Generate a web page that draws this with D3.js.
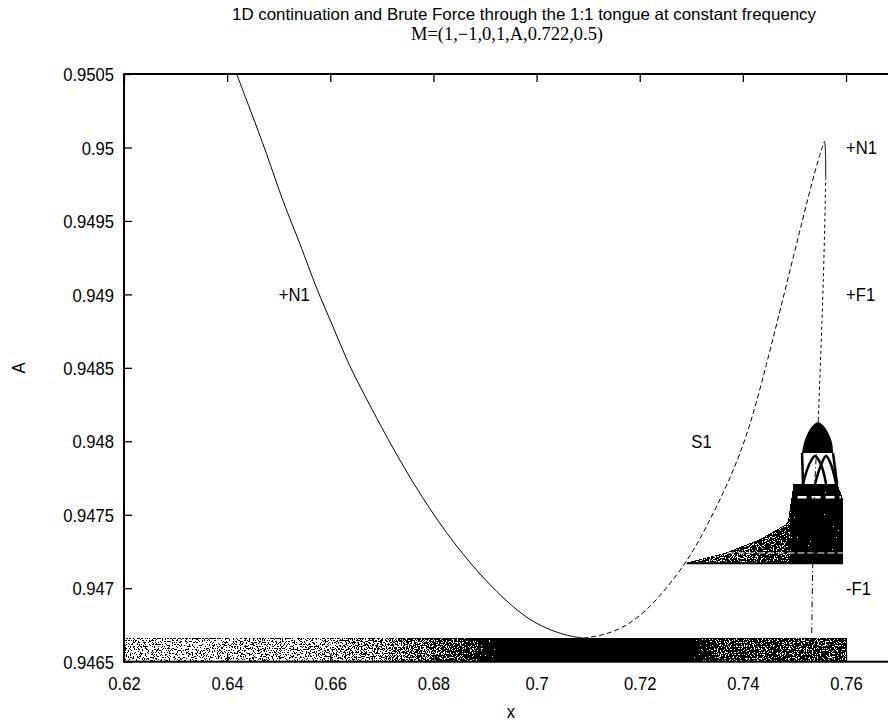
<!DOCTYPE html>
<html>
<head>
<meta charset="utf-8">
<script src="https://d3js.org/d3.v7.min.js"></script>
<style>
  body { margin: 0; background: #fff; }
  svg { display: block; }
  text { font-family: "Liberation Sans", Arial, Helvetica, sans-serif; fill: #000; }
</style>
</head>
<body>
<div id="chart"></div>
<script>
// --- Axis ticks ---
const xTicks = [0.62, 0.64, 0.66, 0.68, 0.7, 0.72, 0.74, 0.76];
const yTicks = [0.9465, 0.947, 0.9475, 0.948, 0.9485, 0.949, 0.9495, 0.95, 0.9505];

// --- Continuation branches, [x, A] ---
const stableN1 = [
  [0.64185, 0.95050], [0.64443, 0.95026], [0.64767, 0.94996], [0.65089, 0.94962],
  [0.65413, 0.94935], [0.65737, 0.94903], [0.66059, 0.94878], [0.66318, 0.94855],
  [0.66640, 0.94833], [0.67288, 0.94790], [0.67934, 0.94753], [0.68579, 0.94722],
  [0.69227, 0.94697], [0.69873, 0.94677], [0.70519, 0.94668], [0.70906, 0.94666]
];
const saddleS1 = [
  [0.70906, 0.94666], [0.71488, 0.94669], [0.72136, 0.94683], [0.72911, 0.94717],
  [0.73299, 0.94742], [0.73751, 0.94774], [0.74125, 0.94808], [0.74463, 0.94853],
  [0.74721, 0.94889], [0.75108, 0.94944], [0.75432, 0.94989], [0.75568, 0.95003]
];
const peakN1 = [[0.75568, 0.95003], [0.75583, 0.95004], [0.75600, 0.94998], [0.75607, 0.94980]];
const flipPlus = [[0.75607, 0.94980], [0.75560, 0.94910], [0.75463, 0.94815]];
const flipMinus = [[0.75463, 0.94815], [0.75399, 0.94774], [0.75355, 0.94717], [0.75335, 0.94668]];

// --- Brute force regions ---
const bandX = [0.62, 0.76];
const bandA = [0.9465, 0.94666];
// [x, share of the band covered by points]
const bandDensity = [
  [0.620, 0.2], [0.640, 0.22], [0.660, 0.3], [0.670, 0.42], [0.680, 0.6],
  [0.688, 0.85], [0.694, 1.0], [0.727, 1.0], [0.735, 0.86], [0.745, 0.76], [0.760, 0.8]
];
const bodyOutline = [
  [0.72911, 0.94717], [0.73687, 0.94724], [0.74333, 0.94733], [0.74785, 0.94742],
  [0.74882, 0.94745], [0.74992, 0.94771], [0.75820, 0.94771], [0.75936, 0.94760],
  [0.75936, 0.94717]
];
const bodyDensity = [[0.72911, 0.6], [0.740, 0.72], [0.7488, 0.85], [0.7500, 0.97], [0.75936, 0.97]];
// light streaks inside the body
const bodyGaps = [
  { pts: [[0.7370, 0.94724], [0.7594, 0.94724]], w: 1, dash: "7,3" },
  { pts: [[0.7506, 0.94762], [0.7590, 0.94762]], w: 2.5, dash: "9,5" }
];
const domeBase = 0.94792;
const domeTop = [
  [0.75147, 0.94792], [0.75186, 0.94799], [0.75263, 0.94806], [0.75361, 0.94811],
  [0.75457, 0.94813], [0.75554, 0.94811], [0.75651, 0.94806], [0.75729, 0.94799],
  [0.75748, 0.94792]
];
const archLines = [
  [[0.75147, 0.94792], [0.75166, 0.94771]],
  [[0.75748, 0.94792], [0.75826, 0.94771]],
  [[0.75166, 0.94771], [0.75283, 0.94784], [0.75399, 0.94790], [0.75516, 0.94784], [0.75613, 0.94771]],
  [[0.75399, 0.94771], [0.75516, 0.94784], [0.75613, 0.94790], [0.75710, 0.94784], [0.75807, 0.94771]]
];

// --- Labels ---
const labels = [
  { text: "+N1", x: 0.65, a: 0.949 },
  { text: "S1", x: 0.73, a: 0.948 },
  { text: "+N1", x: 0.76, a: 0.95 },
  { text: "+F1", x: 0.76, a: 0.949 },
  { text: "-F1", x: 0.76, a: 0.947 }
];

// --- Sizes ---
const W = 888, H = 723;
const mLeft = 124, mRight = 897.6, mTop = 74, mBottom = 661.7;

const svg = d3.select("#chart").append("svg")
  .attr("width", W)
  .attr("height", H);

const x = d3.scaleLinear().domain([0.62, 0.77]).range([mLeft, mRight]);
const y = d3.scaleLinear().domain([0.9465, 0.9505]).range([mBottom, mTop]);
// share of ink -> grey level used as threshold against the noise
const ink = d3.scaleLinear().domain([0, 0.5, 0.9, 1]).range([0.36, 0.5, 0.62, 0.85]);

const defs = svg.append("defs");
defs.append("clipPath").attr("id", "plot")
  .append("rect")
  .attr("x", mLeft).attr("y", mTop)
  .attr("width", mRight - mLeft).attr("height", mBottom - mTop);

// speckle: noise thresholded against the fill grey, gives scattered black points
const f = defs.append("filter").attr("id", "speckle")
  .attr("x", 0).attr("y", 0).attr("width", 1).attr("height", 1)
  .attr("color-interpolation-filters", "sRGB");
f.append("feTurbulence").attr("type", "fractalNoise").attr("baseFrequency", 0.75)
  .attr("numOctaves", 2).attr("seed", 7).attr("result", "noise");
f.append("feColorMatrix").attr("in", "noise").attr("type", "matrix")
  .attr("values", "1 0 0 0 0  1 0 0 0 0  1 0 0 0 0  0 0 0 0 1").attr("result", "n");
f.append("feComposite").attr("in", "SourceGraphic").attr("in2", "n")
  .attr("operator", "arithmetic").attr("k1", 0).attr("k2", 1).attr("k3", -1).attr("k4", 1)
  .attr("result", "diff");
f.append("feComponentTransfer").attr("in", "diff").attr("result", "bin")
  .append("feFuncR").attr("type", "discrete")
  .attr("tableValues", d3.range(100).map(i => i === 99 ? 1 : 0).join(" "));
f.append("feColorMatrix").attr("in", "bin").attr("type", "matrix")
  .attr("values", "0 0 0 0 0  0 0 0 0 0  0 0 0 0 0  1 0 0 0 0");

const densityGradient = (id, stops) => {
  const x1 = stops[0][0], x2 = stops[stops.length - 1][0];
  const g = defs.append("linearGradient").attr("id", id)
    .attr("gradientUnits", "userSpaceOnUse")
    .attr("x1", x(x1)).attr("x2", x(x2)).attr("y1", 0).attr("y2", 0);
  g.selectAll("stop").data(stops).join("stop")
    .attr("offset", d => (x(d[0]) - x(x1)) / (x(x2) - x(x1)))
    .attr("stop-color", d => {
      const v = Math.round(255 * ink(d[1]));
      return `rgb(${v},${v},${v})`;
    });
};
densityGradient("bandGrad", bandDensity);
densityGradient("bodyGrad", bodyDensity);

const plot = svg.append("g").attr("clip-path", "url(#plot)");

// --- Brute force points ---
plot.append("rect")
  .attr("x", x(bandX[0])).attr("y", y(bandA[1]))
  .attr("width", x(bandX[1]) - x(bandX[0]))
  .attr("height", y(bandA[0]) - y(bandA[1]))
  .attr("fill", "url(#bandGrad)")
  .attr("filter", "url(#speckle)");

const line = d3.line().x(d => x(d[0])).y(d => y(d[1]));
const smooth = d3.line().x(d => x(d[0])).y(d => y(d[1])).curve(d3.curveCatmullRom);
const basis = d3.line().x(d => x(d[0])).y(d => y(d[1])).curve(d3.curveBasis);

plot.append("path")
  .attr("d", line(bodyOutline) + "Z")
  .attr("fill", "url(#bodyGrad)")
  .attr("filter", "url(#speckle)");

plot.selectAll(".gap")
  .data(bodyGaps)
  .join("path")
  .attr("class", "gap")
  .attr("d", d => line(d.pts))
  .attr("stroke", "#fff")
  .attr("stroke-width", d => d.w)
  .attr("stroke-dasharray", d => d.dash);

plot.append("path")
  .attr("d", line([bodyOutline[0], bodyOutline[bodyOutline.length - 1]]))
  .attr("stroke", "#000").attr("stroke-width", 2);

plot.append("path")
  .attr("d", d3.area().x(d => x(d[0])).y0(y(domeBase)).y1(d => y(d[1]))
    .curve(d3.curveCatmullRom)(domeTop))
  .attr("fill", "#000");

plot.selectAll(".arch")
  .data(archLines)
  .join("path")
  .attr("class", "arch")
  .attr("d", d => smooth(d))
  .attr("fill", "none")
  .attr("stroke", "#000")
  .attr("stroke-width", 2.5);

// --- Continuation curves ---
const branches = [
  { pts: stableN1, dash: null, gen: basis },
  { pts: saddleS1, dash: "5,3", gen: basis },
  { pts: peakN1, dash: null, gen: smooth },
  { pts: flipPlus, dash: "3,3", gen: smooth },
  { pts: flipMinus, dash: "6,3,1,3", gen: smooth }
];
plot.selectAll(".branch")
  .data(branches)
  .join("path")
  .attr("class", "branch")
  .attr("d", d => d.gen(d.pts))
  .attr("fill", "none")
  .attr("stroke", "#000")
  .attr("stroke-width", 1)
  .attr("stroke-dasharray", d => d.dash);

// --- Labels in the plot ---
svg.selectAll(".lbl")
  .data(labels)
  .join("text")
  .attr("class", "lbl")
  .attr("transform", d => `translate(${x(d.x)},${y(d.a)}) scale(0.9,1)`)
  .attr("dy", "0.36em")
  .style("font-size", "18.5px")
  .text(d => d.text);

// --- Axes (gnuplot style ticks pointing inward) ---
const styleAxis = g => {
  g.select(".domain").remove();
  g.selectAll(".tick line").attr("stroke", "#000").attr("stroke-width", 1.3);
  g.selectAll(".tick text")
    .attr("fill", "#000")
    .style("font-size", "18.5px")
    .attr("transform", "scale(0.9,1)");
};

svg.append("g").attr("transform", `translate(0,${mBottom})`)
  .call(d3.axisBottom(x).tickValues(xTicks).tickFormat(String)
    .tickSizeInner(-8).tickSizeOuter(0).tickPadding(15))
  .call(styleAxis);
svg.append("g").attr("transform", `translate(0,${mTop})`)
  .call(d3.axisTop(x).tickValues(xTicks).tickFormat("")
    .tickSizeInner(-8).tickSizeOuter(0))
  .call(styleAxis);
svg.append("g").attr("transform", `translate(${mLeft},0)`)
  .call(d3.axisLeft(y).tickValues(yTicks).tickFormat(String)
    .tickSizeInner(-8).tickSizeOuter(0).tickPadding(11))
  .call(styleAxis)
  .selectAll(".tick text").attr("dy", "0.36em");
svg.append("g").attr("transform", `translate(${mRight},0)`)
  .call(d3.axisRight(y).tickValues(yTicks).tickFormat("")
    .tickSizeInner(-8).tickSizeOuter(0))
  .call(styleAxis);

svg.append("rect")
  .attr("x", mLeft).attr("y", mTop)
  .attr("width", mRight - mLeft).attr("height", mBottom - mTop)
  .attr("fill", "none")
  .attr("stroke", "#000")
  .attr("stroke-width", 2);

// --- Axis titles and chart title ---
svg.append("text")
  .attr("transform", `translate(${(mLeft + mRight) / 2},718) scale(0.9,1)`)
  .attr("text-anchor", "middle")
  .style("font-size", "18.5px")
  .text("x");
svg.append("text")
  .attr("transform", "translate(25,368) rotate(-90) scale(0.9,1)")
  .attr("text-anchor", "middle")
  .style("font-size", "18.5px")
  .text("A");

svg.append("text")
  .attr("x", 524).attr("y", 20)
  .attr("text-anchor", "middle")
  .attr("textLength", 584)
  .attr("lengthAdjust", "spacingAndGlyphs")
  .style("font-size", "16.5px")
  .text("1D continuation and Brute Force through the 1:1 tongue at constant frequency");
svg.append("text")
  .attr("x", 507).attr("y", 40)
  .attr("text-anchor", "middle")
  .attr("textLength", 192)
  .attr("lengthAdjust", "spacingAndGlyphs")
  .style("font-family", "'Liberation Serif', 'Times New Roman', serif")
  .style("font-size", "18px")
  .text("M=(1,\u22121,0,1,A,0.722,0.5)");
</script>
</body>
</html>
